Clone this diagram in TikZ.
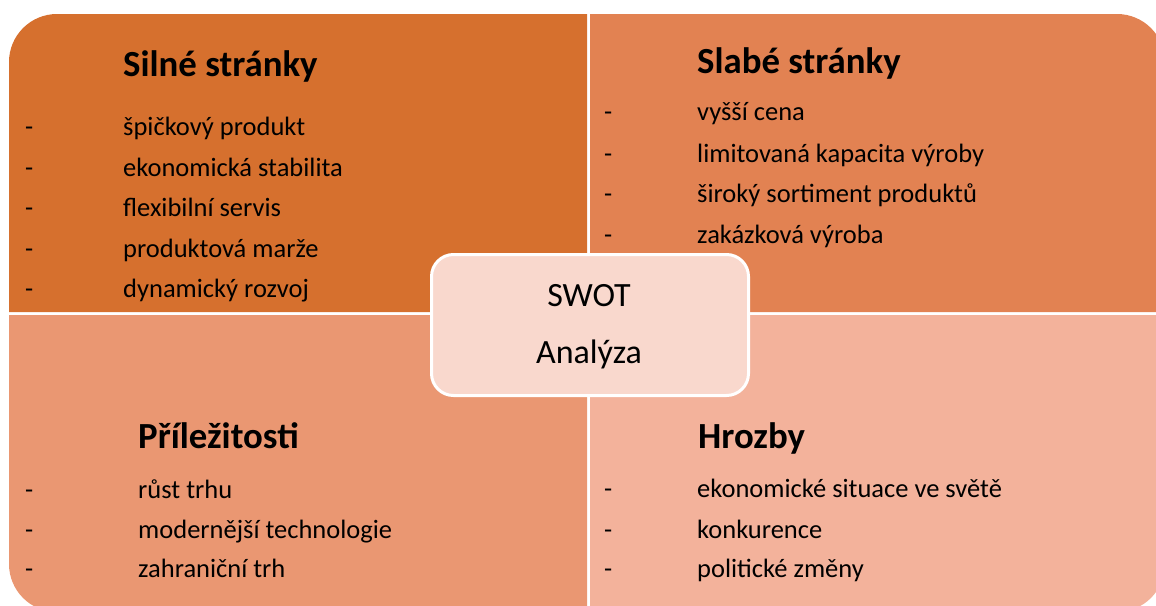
\documentclass[tikz,border=0pt]{standalone}
\usepackage{fontspec}
\setmainfont{Carlito}
\definecolor{cS}{RGB}{214,112,46}
\definecolor{cW}{RGB}{226,130,82}
\definecolor{cO}{RGB}{234,151,114}
\definecolor{cT}{RGB}{243,178,155}
\definecolor{cC}{RGB}{249,216,205}
\begin{document}
\begin{tikzpicture}[x=1pt,y=-1pt,
  title/.style={anchor=base west,inner sep=0pt,font=\fontsize{36.8}{40}\selectfont\bfseries},
  item/.style={anchor=base west,inner sep=0pt,font=\fontsize{26.5}{30}\selectfont},
  dashmark/.style={anchor=base west,inner sep=0pt,font=\fontsize{26.5}{30}\selectfont}]
\useasboundingbox (0,0) rectangle (1156,605);
\clip (0,0) rectangle (1156,605);
% quadrants
\fill[cS] (9,312) -- (9,62) arc[start angle=180,end angle=270,radius=48] -- (587,14) -- (587,312) -- cycle;
\fill[cW] (590,14) -- (1117,14) arc[start angle=270,end angle=360,radius=48] -- (1165,312) -- (590,312) -- cycle;
\fill[cO] (9,315) -- (587,315) -- (587,612) -- (57,612) arc[start angle=90,end angle=180,radius=48] -- cycle;
\fill[cT] (590,315) -- (1165,315) -- (1165,564) arc[start angle=0,end angle=90,radius=48] -- (590,612) -- cycle;
% centre box
\node[draw=white,line width=3pt,fill=cC,rounded corners=22pt,minimum width=317pt,minimum height=141pt,inner sep=0pt] (swot) at (590,325) {};
\node[anchor=base,inner sep=0pt,font=\fontsize{34}{40}\selectfont] (swot1) at (589,306) {SWOT};
\node[anchor=base,inner sep=0pt,font=\fontsize{34}{40}\selectfont] (swot2) at (589,363) {Analýza};
% Strengths
\node[title] (ts) at (123,76) {Silné stránky};
\foreach \t [count=\i] in {špičkový produkt,ekonomická stabilita,flexibilní servis,produktová marže,dynamický rozvoj}{
  \node[dashmark] (sd\i) at (25,95.5+40.4*\i) {-};
  \node[item] (si\i) at (123,95.5+40.4*\i) {\t};
}
% Weaknesses
\node[title] (tw) at (697,73) {Slabé stránky};
\node[dashmark] (wd1) at (604,120.7) {-};
\node[item] (wi1) at (697,120.7) {vyšší cena};
\node[dashmark] (wd2) at (604,162.5) {-};
\node[item] (wi2) at (697,162.5) {limitovaná kapacita výroby};
\node[dashmark] (wd3) at (604,202) {-};
\node[item] (wi3) at (697,202) {široký sortiment produktů};
\node[dashmark] (wd4) at (604,243.3) {-};
\node[item] (wi4) at (697,243.3) {zakázková výroba};
% Opportunities
\node[title] (to) at (138,448) {Příležitosti};
\foreach \t/\y [count=\i] in {růst trhu/498,modernější technologie/538,zahraniční trh/577.5}{
  \node[dashmark] (od\i) at (25,\y) {-};
  \node[item] (oi\i) at (138,\y) {\t};
}
% Threats
\node[title] (tt) at (698,448) {Hrozby};
\foreach \t/\y [count=\i] in {ekonomické situace ve světě/497.5,konkurence/538,politické změny/577.5}{
  \node[dashmark] (td\i) at (604,\y) {-};
  \node[item] (ti\i) at (697,\y) {\t};
}
\end{tikzpicture}
\end{document}
